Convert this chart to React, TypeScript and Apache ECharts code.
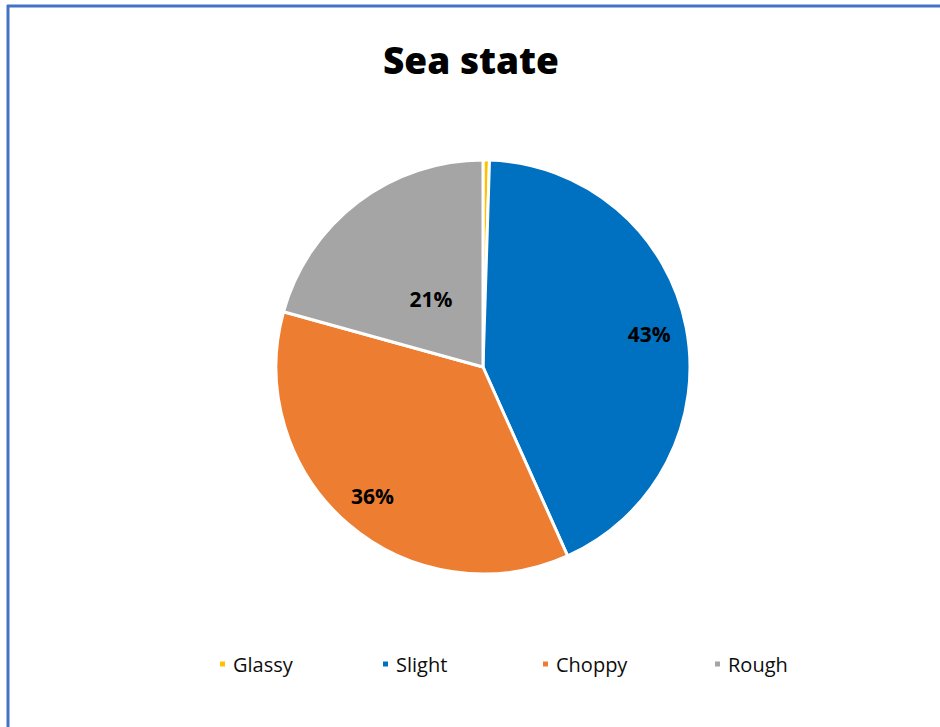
import React, { useEffect, useRef } from "react";
import * as echarts from "echarts";

const categories = ["Glassy", "Slight", "Choppy", "Rough"];
const values = [0.5, 42.8, 36.0, 20.7];
const colors = ["#FFC000", "#0070C0", "#ED7D31", "#A5A5A5"];
const outerLabelCats = ["Slight", "Choppy"];
const innerLabelCats = ["Rough"];
const legendLefts = [213, 376, 536, 708];

export default function App() {
  const ref = useRef<HTMLDivElement>(null);
  useEffect(() => {
    document.body.style.margin = "0";
    const chart = echarts.init(ref.current!, null, { renderer: "svg" });
    const font = "'Open Sans', 'Noto Sans', sans-serif";
    const data = categories.map((c, i) => ({ name: c, value: values[i], itemStyle: { color: colors[i] } }));
    const labelData = (show: string[]) =>
      categories.map((c, i) => ({
        name: c,
        value: values[i],
        label: { show: show.includes(c) },
      }));
    const center = [483, 367];
    const labelStyle = {
      position: "inside",
      fontFamily: font,
      fontWeight: "bold",
      fontSize: 21,
      color: "#000",
      formatter: (p: any) => Math.round(p.percent) + "%",
    };
    chart.setOption({
      animation: false,
      backgroundColor: "#fff",
      title: {
        text: "Sea state",
        left: 466,
        top: 36,
        textAlign: "center",
        textStyle: { fontFamily: font, fontWeight: 800, fontSize: 37, color: "#000" },
      },
      legend: categories.map((c, i) => ({
        data: [c],
        left: legendLefts[i],
        top: 649,
        icon: "rect",
        itemWidth: 7,
        itemHeight: 7,
        itemGap: 0,
        selectedMode: false,
        textStyle: { fontFamily: font, fontSize: 20, color: "#0d0d0d", padding: [0, 0, 0, 2] },
      })),
      graphic: [
        { type: "line", shape: { x1: 7, y1: 6, x2: 940, y2: 6 }, style: { stroke: "#4472C4", lineWidth: 3 } },
        { type: "line", shape: { x1: 8, y1: 5, x2: 8, y2: 727 }, style: { stroke: "#4472C4", lineWidth: 3 } },
      ],
      series: [
        {
          type: "pie",
          center,
          radius: [0, 207],
          startAngle: 90,
          clockwise: true,
          data,
          label: { show: false },
          labelLine: { show: false },
          itemStyle: { borderColor: "#fff", borderWidth: 3 },
          silent: true,
        },
        {
          type: "pie",
          center,
          radius: [126, 207],
          startAngle: 90,
          clockwise: true,
          data: labelData(outerLabelCats),
          itemStyle: { color: "transparent" },
          label: labelStyle,
          labelLine: { show: false },
          silent: true,
          legendHoverLink: false,
        },
        {
          type: "pie",
          center,
          radius: [0, 166],
          startAngle: 90,
          clockwise: true,
          data: labelData(innerLabelCats),
          itemStyle: { color: "transparent" },
          label: labelStyle,
          labelLine: { show: false },
          silent: true,
          legendHoverLink: false,
        },
      ],
    });
    return () => chart.dispose();
  }, []);
  return <div ref={ref} style={{ width: 940, height: 727 }} />;
}
